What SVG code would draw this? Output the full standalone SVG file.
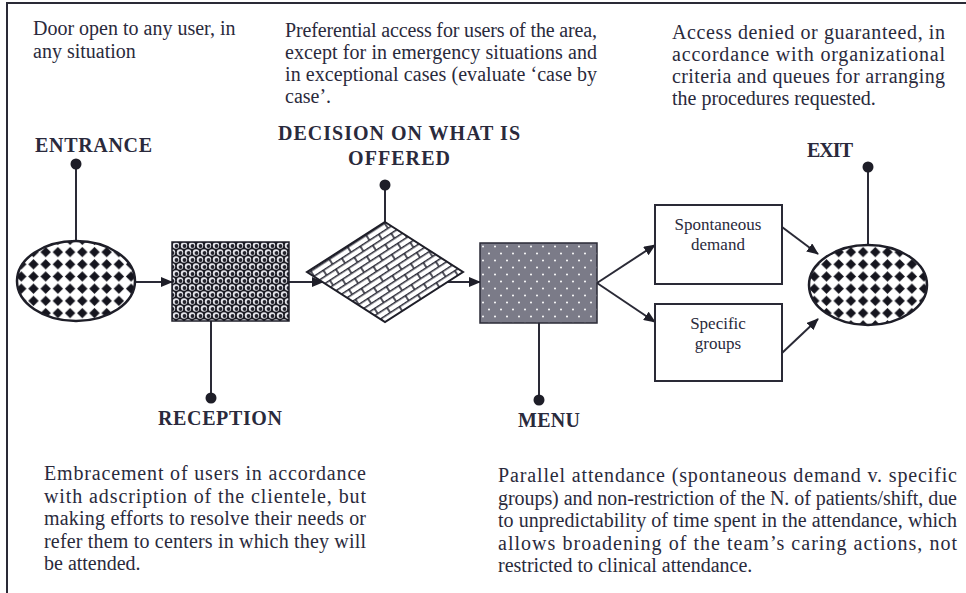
<svg xmlns="http://www.w3.org/2000/svg" width="966" height="593" viewBox="0 0 966 593">
<style>
.t{font-family:"Liberation Serif","Times New Roman",serif;font-size:20px;fill:#2a2a3c}
.b{font-family:"Liberation Serif","Times New Roman",serif;font-size:20px;font-weight:bold;fill:#2a2a3c}
.s{font-family:"Liberation Serif","Times New Roman",serif;font-size:17px;fill:#2a2a3c;text-anchor:middle}
.ln{stroke:#2a2a36;stroke-width:2;fill:none}
.ar{stroke:#2a2a36;stroke-width:2;fill:none;marker-end:url(#arr)}
.dot{fill:#1e1e28}
.box{fill:#fff;stroke:#2a2a36;stroke-width:2}
</style>
<defs>
<marker id="arr" markerUnits="userSpaceOnUse" markerWidth="12" markerHeight="10" refX="11" refY="5" orient="auto">
<path d="M0,0 L12,5 L0,10 Z" fill="#1e1e28"/>
</marker>
<pattern id="pDiam" patternUnits="userSpaceOnUse" width="12.2" height="12.2" x="3" y="2">
<rect width="12.2" height="12.2" fill="#fff"/>
<path d="M6.1,0.9 L11.3,6.1 L6.1,11.3 L0.9,6.1 Z" fill="#15151e"/>
</pattern>
<pattern id="pBall" patternUnits="userSpaceOnUse" width="8" height="14" x="172" y="242">
<rect width="8" height="14" fill="#1a1a22"/>
<g fill="#e4e4ea"><circle cx="4" cy="3.5" r="3.2"/><circle cx="0" cy="10.5" r="3.2"/><circle cx="8" cy="10.5" r="3.2"/></g>
<g fill="#23232c"><circle cx="4.5" cy="4" r="1.9"/><circle cx="0.5" cy="11" r="1.9"/><circle cx="8.5" cy="11" r="1.9"/></g>
</pattern>
<pattern id="pBrick" patternUnits="userSpaceOnUse" width="22" height="12" patternTransform="rotate(-33)">
<rect width="22" height="12" fill="#fff"/>
<path d="M0,0.7 H22 M0,6.7 H22 M3,0.7 V6.7 M14,6.7 V12.7" stroke="#2a2a36" stroke-width="1.6"/>
</pattern>
<pattern id="pGrey" patternUnits="userSpaceOnUse" width="12" height="14" x="480" y="243">
<rect width="12" height="14" fill="#7b7b88"/>
<circle cx="3" cy="3.5" r="1" fill="#fff"/>
<circle cx="9" cy="10.5" r="1" fill="#fff"/>
</pattern>
</defs>

<g id="frame">
<path d="M7,3 V593 M6,3 H966" stroke="#2a2a36" stroke-width="2" fill="none"/>
</g>

<g id="note-entrance">
<text class="t" x="33" y="35">Door open to any user, in</text>
<text class="t" x="33" y="58">any situation</text>
</g>
<g id="note-decision">
<text class="t" x="285" y="37" textLength="312" lengthAdjust="spacing">Preferential access for users of the area,</text>
<text class="t" x="285" y="59" textLength="312" lengthAdjust="spacing">except for in emergency situations and</text>
<text class="t" x="285" y="81" textLength="312" lengthAdjust="spacing">in exceptional cases (evaluate ‘case by</text>
<text class="t" x="285" y="103">case’.</text>
</g>
<g id="note-exit">
<text class="t" x="672" y="39" textLength="273" lengthAdjust="spacing">Access denied or guaranteed, in</text>
<text class="t" x="672" y="61" textLength="273" lengthAdjust="spacing">accordance with organizational</text>
<text class="t" x="672" y="83" textLength="273" lengthAdjust="spacing">criteria and queues for arranging</text>
<text class="t" x="672" y="105">the procedures requested.</text>
</g>
<g id="note-reception">
<text class="t" x="44" y="480" textLength="322" lengthAdjust="spacing">Embracement of users in accordance</text>
<text class="t" x="44" y="502.5" textLength="322" lengthAdjust="spacing">with adscription of the clientele, but</text>
<text class="t" x="44" y="525" textLength="322" lengthAdjust="spacing">making efforts to resolve their needs or</text>
<text class="t" x="44" y="547.5" textLength="322" lengthAdjust="spacing">refer them to centers in which they will</text>
<text class="t" x="44" y="570">be attended.</text>
</g>
<g id="note-menu">
<text class="t" x="498" y="482" textLength="459" lengthAdjust="spacing">Parallel attendance (spontaneous demand v. specific</text>
<text class="t" x="498" y="504.5" textLength="459" lengthAdjust="spacing">groups) and non-restriction of the N. of patients/shift, due</text>
<text class="t" x="498" y="527" textLength="459" lengthAdjust="spacing">to unpredictability of time spent in the attendance, which</text>
<text class="t" x="498" y="549.5" textLength="459" lengthAdjust="spacing">allows broadening of the team’s caring actions, not</text>
<text class="t" x="498" y="572">restricted to clinical attendance.</text>
</g>

<g id="connectors">
<path class="ln" d="M76,164 V241"/>
<path class="ln" d="M211,321 V398"/>
<path class="ln" d="M385,185 V222"/>
<path class="ln" d="M539,323 V400"/>
<path class="ln" d="M868,167 V245"/>
<circle class="dot" cx="76" cy="164" r="5.5"/>
<circle class="dot" cx="211" cy="398" r="5.5"/>
<circle class="dot" cx="385" cy="185" r="5.5"/>
<circle class="dot" cx="539" cy="400" r="5.5"/>
<circle class="dot" cx="868" cy="167" r="5.5"/>
<path class="ar" d="M135,282 H172"/>
<path class="ar" d="M289,282 H323"/>
<path class="ar" d="M447,282 H480"/>
<path class="ar" d="M597,283 L655,245"/>
<path class="ar" d="M597,283 L655,322"/>
<path class="ar" d="M782,227 L818,254"/>
<path class="ar" d="M782,353 L818,319"/>
</g>

<g id="entrance">
<ellipse cx="76" cy="281" rx="59" ry="40" fill="url(#pDiam)" stroke="#1e1e28" stroke-width="2.5"/>
<text class="b" x="35" y="152" textLength="117" lengthAdjust="spacing">ENTRANCE</text>
</g>
<g id="reception">
<rect x="172" y="242" width="117" height="79" fill="url(#pBall)" stroke="#1e1e28" stroke-width="1.5"/>
<text class="b" x="158" y="425" textLength="124" lengthAdjust="spacing">RECEPTION</text>
</g>
<g id="decision">
<path d="M385,222 L463,272 L385,322 L307,272 Z" fill="url(#pBrick)" stroke="#1e1e28" stroke-width="2"/>
<text class="b" x="278" y="140" textLength="242" lengthAdjust="spacing">DECISION ON WHAT IS</text>
<text class="b" x="348" y="165" textLength="102" lengthAdjust="spacing">OFFERED</text>
</g>
<g id="menu">
<rect x="480" y="243" width="117" height="80" fill="url(#pGrey)" stroke="#2a2a36" stroke-width="1.5"/>
<text class="b" x="518" y="427" textLength="62" lengthAdjust="spacing">MENU</text>
</g>
<g id="spontaneous">
<rect class="box" x="655" y="205" width="127" height="79"/>
<text class="s" x="718" y="230">Spontaneous</text>
<text class="s" x="718" y="250">demand</text>
</g>
<g id="specific">
<rect class="box" x="655" y="304" width="127" height="77"/>
<text class="s" x="718" y="329">Specific</text>
<text class="s" x="718" y="349">groups</text>
</g>
<g id="exit">
<ellipse cx="868" cy="285" rx="59" ry="40" fill="url(#pDiam)" stroke="#1e1e28" stroke-width="2.5"/>
<text class="b" x="807" y="157" textLength="46" lengthAdjust="spacing">EXIT</text>
</g>
</svg>
